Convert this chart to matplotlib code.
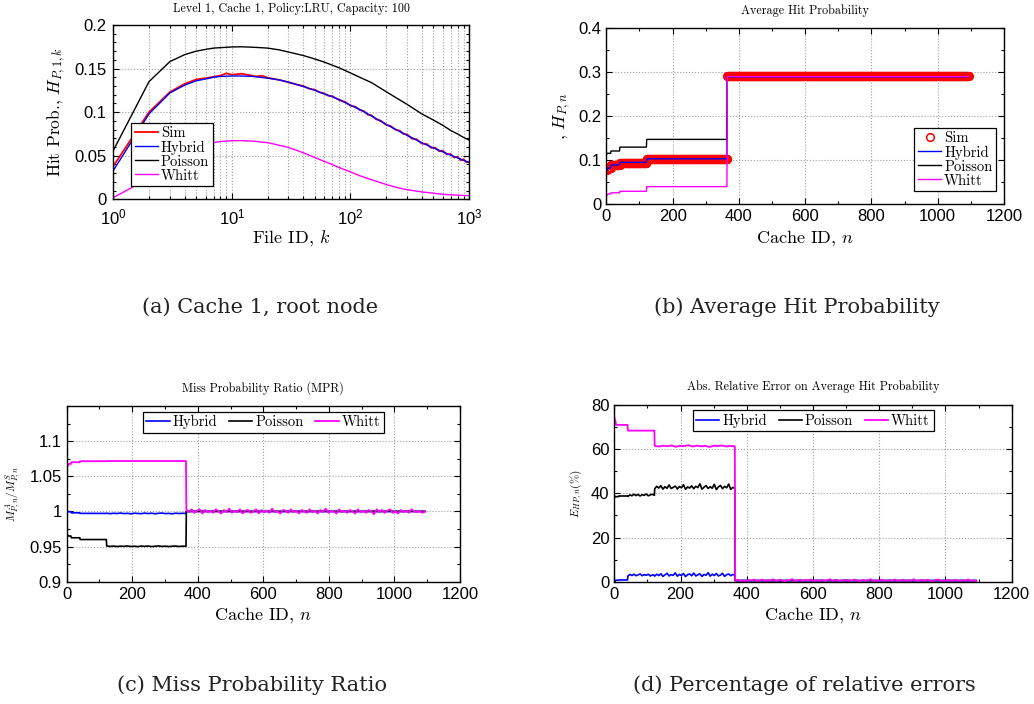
import numpy as np
import matplotlib
matplotlib.use("Agg")
import matplotlib.pyplot as plt
from matplotlib.ticker import MultipleLocator, FormatStrFormatter, LogLocator, NullFormatter

plt.rcParams['font.family'] = ['Liberation Sans', 'DejaVu Sans']
plt.rcParams['mathtext.fontset'] = 'cm'

SERIF = 'cmr10'
CAPTION_FONT = 'DejaVu Serif'

# ---------------- (a) hit probability per file, level 1 cache 1 ----------------
file_id = [1, 2, 3, 4, 5, 6, 7, 8, 10, 12, 15, 20, 25, 30, 40, 50, 60, 70, 80, 100,
           120, 150, 200, 250, 300, 400, 500, 600, 700, 800, 900, 1000]
hybrid_a = [0.033, 0.098, 0.122, 0.131, 0.136, 0.138, 0.140, 0.141, 0.1415, 0.1415, 0.141,
            0.139, 0.137, 0.1345, 0.1295, 0.125, 0.121, 0.1178, 0.1145, 0.108, 0.103, 0.0957,
            0.086, 0.079, 0.0735, 0.0648, 0.059, 0.0545, 0.0507, 0.0475, 0.0447, 0.0423]
poisson_a = [0.056, 0.135, 0.158, 0.166, 0.170, 0.172, 0.1735, 0.174, 0.1748, 0.175, 0.1745,
             0.1735, 0.1715, 0.169, 0.165, 0.161, 0.1575, 0.154, 0.151, 0.145, 0.140, 0.134,
             0.1235, 0.1155, 0.109, 0.098, 0.091, 0.085, 0.079, 0.075, 0.071, 0.068]
whitt_a = [0.002, 0.024, 0.040, 0.050, 0.057, 0.062, 0.065, 0.0663, 0.0672, 0.0673, 0.0668,
           0.065, 0.062, 0.0595, 0.0535, 0.048, 0.0435, 0.040, 0.0365, 0.0315, 0.027, 0.0225,
           0.017, 0.0133, 0.011, 0.0085, 0.007, 0.0058, 0.0052, 0.0047, 0.0044, 0.0042]
sim_file_id = [1, 2, 3, 4, 5, 6, 7, 8, 9, 10, 11, 12, 14, 16, 18, 20, 23, 26, 30, 35, 40, 45,
               50, 55, 60, 65, 70, 80, 90, 100, 110, 120, 130, 140, 150, 165, 180, 200, 220,
               240, 260, 280, 300, 330, 360, 400, 440, 480, 520, 560, 600, 650, 700, 750, 800,
               850, 900, 950, 1000]
sim_a = [0.038, 0.100, 0.123, 0.1325, 0.1375, 0.139, 0.1405, 0.142, 0.1445, 0.143, 0.1435,
         0.1442, 0.1425, 0.141, 0.1418, 0.1395, 0.138, 0.1365, 0.1342, 0.1318, 0.1300, 0.1268,
         0.1258, 0.1228, 0.1215, 0.1188, 0.1185, 0.1140, 0.1118, 0.1075, 0.1062, 0.1025,
         0.1012, 0.0972, 0.0965, 0.0918, 0.0902, 0.0855, 0.0838, 0.0798, 0.0788, 0.0750,
         0.0745, 0.0696, 0.0690, 0.0640, 0.0635, 0.0590, 0.0592, 0.0552, 0.0558, 0.0515,
         0.0520, 0.0478, 0.0490, 0.0448, 0.0460, 0.0425, 0.0430]

# ---------------- tree of caches: 7 levels of a ternary tree ----------------
level_size = [1, 3, 9, 27, 81, 243, 729]

# (b) average hit probability per level
sim_b = [0.077, 0.079, 0.083, 0.088, 0.094, 0.103, 0.290]
hybrid_b = [0.076, 0.079, 0.082, 0.089, 0.095, 0.103, 0.289]
poisson_b = [0.113, 0.1155, 0.1155, 0.1207, 0.1295, 0.147, 0.289]
whitt_b = [0.019, 0.022, 0.0235, 0.026, 0.0295, 0.040, 0.289]

# (c) miss probability ratio per level
hybrid_c = [1.000, 1.000, 0.9995, 0.998, 0.9972, 0.9972, 1.000]
poisson_c = [0.9665, 0.966, 0.965, 0.9625, 0.960, 0.9505, 1.000]
whitt_c = [1.0625, 1.065, 1.0675, 1.070, 1.0715, 1.0717, 1.000]
hybrid_c_l6 = [0.9975, 0.9968, 0.9974, 0.9970, 0.9977, 0.9969, 0.9973, 0.9966, 0.9975, 0.9971,
               0.9968, 0.9976, 0.9970, 0.9974, 0.9967, 0.9973, 0.9977, 0.9969, 0.9972, 0.9966,
               0.9975, 0.9970, 0.9974, 0.9971]
poisson_c_l6 = [0.9508, 0.9502, 0.9507, 0.9500, 0.9506, 0.9503, 0.9509, 0.9501, 0.9505, 0.9499,
                0.9507, 0.9503, 0.9508, 0.9500, 0.9504, 0.9509, 0.9502, 0.9506, 0.9500, 0.9505,
                0.9508, 0.9501, 0.9506, 0.9503]
whitt_c_l7 = [1.002, 0.999, 1.003, 0.998, 1.001, 1.003, 0.997, 1.002, 0.999, 1.001,
              0.998, 1.003, 1.000, 0.997, 1.002, 0.999, 1.004, 0.998, 1.001, 0.999,
              1.003, 0.997, 1.001, 1.002, 0.998, 1.000, 1.003, 0.997, 1.002, 0.999,
              1.001, 0.998, 1.004, 0.999, 1.000, 0.997, 1.002, 1.001, 0.998, 1.003,
              0.999, 1.001, 0.997, 1.002, 1.000, 0.998, 1.003, 0.999, 1.001, 0.997,
              1.002, 0.999, 1.004, 0.998, 1.001, 1.000, 0.997, 1.003, 0.999, 1.001,
              0.998, 1.002, 1.000, 0.997, 1.003, 0.999, 1.001, 0.998, 1.002, 1.000,
              0.996, 1.003, 0.999, 1.002, 0.998, 1.001, 1.003, 0.998, 1.000, 0.997,
              1.002, 0.999, 1.001, 0.998, 1.003, 1.000, 0.999, 1.001, 0.998, 1.000]

# (d) absolute relative error (%) per level
hybrid_d = [0.1, 0.4, 0.7, 0.8, 3.0, 3.0, 0.5]
poisson_d = [38.3, 38.6, 38.5, 38.8, 39.3, 42.5, 0.5]
whitt_d = [74.0, 72.5, 71.0, 71.0, 68.4, 61.4, 0.6]
hybrid_d_l5 = [2.6, 3.3, 2.8, 3.4, 2.7, 3.1, 3.5, 2.7, 3.2, 2.9, 3.4, 2.6, 3.1, 2.9]
hybrid_d_l6 = [2.5, 3.4, 2.8, 3.6, 2.4, 3.1, 3.8, 2.6, 3.2, 2.9, 4.0, 2.5, 3.3, 2.8, 3.7, 2.3,
               3.2, 3.5, 2.7, 3.9, 2.6, 3.1, 3.6, 2.4, 3.3, 2.9, 4.1, 2.5, 3.4, 2.8, 3.7, 2.6,
               3.0, 3.8, 2.4, 3.2, 3.5, 2.7, 3.3, 2.9]
poisson_d_l5 = [38.6, 39.3, 38.9, 39.6, 39.0, 39.5, 38.8, 39.4, 39.1, 39.7, 38.9, 39.3, 39.6, 39.1]
poisson_d_l6 = [42.1, 43.2, 42.4, 43.5, 41.9, 43.0, 42.3, 43.8, 42.2, 42.7, 43.3, 42.0, 43.1,
                42.5, 43.9, 41.8, 42.9, 42.4, 43.4, 42.1, 43.2, 42.6, 44.3, 41.9, 42.8, 43.5,
                42.2, 43.0, 42.3, 44.1, 41.7, 42.9, 43.6, 42.1, 43.2, 42.5, 44.2, 41.8, 42.7,
                42.3]
whitt_d_l6 = [61.5, 61.2, 61.6, 61.3, 61.7, 61.1, 61.5, 61.4, 61.8, 61.2, 61.6, 61.3, 61.5,
              61.0, 61.6, 61.4, 61.7, 61.2, 61.5, 61.3]
whitt_d_l7 = [0.5, 0.9, 0.3, 0.7, 0.2, 0.8, 0.4, 1.0, 0.3, 0.6,
              0.9, 0.2, 0.7, 0.4, 1.1, 0.3, 0.6, 0.8, 0.2, 0.7,
              0.4, 1.2, 0.3, 0.6, 0.9, 0.2, 0.8, 0.5, 1.0, 0.3,
              0.7, 0.4, 0.9, 0.2, 0.6, 1.1, 0.3, 0.8, 0.5, 0.2,
              0.9, 0.4, 0.7, 0.3, 1.0, 0.5, 0.2, 0.8, 0.4, 0.6,
              1.1, 0.3, 0.7, 0.2, 0.9, 0.5, 0.3, 0.8, 0.4, 1.0,
              0.2, 0.6, 0.9, 0.3, 0.7, 0.4, 1.1, 0.2, 0.6, 0.8,
              0.3, 0.9, 0.5, 0.2, 0.7, 1.0, 0.3, 0.6, 0.4, 0.8,
              0.2, 0.9, 0.5, 0.3, 0.7, 0.4, 1.0, 0.3, 0.6, 0.4]

RED, BLUE, MAG = '#ff0000', '#0000ff', '#ff00ff'

last_id = np.cumsum(level_size)
first_id = last_id - np.array(level_size) + 1


def level_series(levels, noisy=None):
    """x/y of a per-level curve; levels listed in `noisy` use the read samples."""
    noisy = noisy or {}
    xs, ys = [], []
    for i, v in enumerate(levels):
        if i in noisy:
            vals = noisy[i]
            xs.extend(np.linspace(first_id[i], last_id[i], len(vals)))
            ys.extend(vals)
        else:
            xs.extend([first_id[i], last_id[i]])
            ys.extend([v, v])
    return np.array(xs), np.array(ys)


def style_axes(ax):
    ax.tick_params(which='both', direction='in', top=True, right=True,
                   labelsize=12, labelfontfamily='Liberation Sans', width=0.8)
    ax.tick_params(which='major', length=4)
    ax.tick_params(which='minor', length=2)
    for s in ax.spines.values():
        s.set_linewidth(1.0)
    ax.grid(True, which='major', linestyle=':', color='#a0a0a0', linewidth=0.8)


def legend(ax, **kw):
    leg = ax.legend(prop={'family': SERIF, 'size': 10.5}, fancybox=False, framealpha=1,
                    edgecolor='black', borderpad=0.25, labelspacing=0.02,
                    handletextpad=0.2, borderaxespad=0, handlelength=1.6, **kw)
    leg.get_frame().set_linewidth(0.9)
    return leg


fig = plt.figure(figsize=(10.34, 7.04), dpi=100)
W, H = 1034.0, 704.0


def axes_px(left, top, right, bottom):
    return fig.add_axes([left / W, 1 - bottom / H, (right - left) / W, (bottom - top) / H])


# ---------------- (a) ----------------
ax = axes_px(113.3, 25, 469, 199.3)
ax.plot(sim_file_id, sim_a, color=RED, lw=1.3, label='Sim')
ax.plot(file_id, hybrid_a, color=BLUE, lw=1.0, label='Hybrid')
ax.plot(file_id, poisson_a, color='black', lw=1.0, label='Poisson')
ax.plot(file_id, whitt_a, color=MAG, lw=1.0, label='Whitt')
ax.set_xscale('log')
ax.set_xlim(1, 1000)
ax.set_ylim(0, 0.2)
ax.yaxis.set_major_locator(MultipleLocator(0.05))
ax.yaxis.set_minor_locator(MultipleLocator(0.01))
ax.yaxis.set_major_formatter(FormatStrFormatter('%g'))
ax.xaxis.set_minor_locator(LogLocator(base=10, subs=np.arange(2, 10)))
ax.xaxis.set_minor_formatter(NullFormatter())
style_axes(ax)
ax.tick_params(axis='y', pad=5)
ax.tick_params(axis='x', pad=6)
ax.grid(True, which='minor', axis='x', linestyle=':', color='#a0a0a0', linewidth=0.8)
ax.text(0.5, 1.092, 'Level 1, Cache 1, Policy:LRU, Capacity: 100', transform=ax.transAxes,
        ha='center', va='center', family=SERIF, size=8.7)
ax.set_xlabel('File ID, $k$', family=SERIF, size=13)
ax.set_ylabel('Hit Prob., $H_{P,1,k}$', family=SERIF, size=12.5)
ax.xaxis.set_label_coords(0.5, -0.165)
ax.yaxis.set_label_coords(-0.127, 0.5)
legend(ax, loc='lower left', bbox_to_anchor=(0.05, 0.075))

cache_id = np.arange(1, last_id[-1] + 1)

# ---------------- (b) ----------------
ax = axes_px(606.3, 27.7, 1004, 204.3)
ax.plot(cache_id, np.repeat(sim_b, level_size), 'o', mfc='none', mec=RED, ms=5.5, mew=1.1,
        label='Sim')
ax.plot(cache_id, np.repeat(hybrid_b, level_size), color=BLUE, lw=1.0, label='Hybrid')
ax.plot(cache_id, np.repeat(poisson_b, level_size), color='black', lw=1.0, label='Poisson')
ax.plot(cache_id, np.repeat(whitt_b, level_size), color=MAG, lw=1.0, label='Whitt')
ax.set_xlim(0, 1200)
ax.set_ylim(0, 0.4)
ax.xaxis.set_major_locator(MultipleLocator(200))
ax.xaxis.set_minor_locator(MultipleLocator(100))
ax.yaxis.set_major_locator(MultipleLocator(0.1))
ax.yaxis.set_minor_locator(MultipleLocator(0.05))
ax.yaxis.set_major_formatter(FormatStrFormatter('%g'))
style_axes(ax)
ax.text(0.5, 1.096, 'Average Hit Probability', transform=ax.transAxes,
        ha='center', va='center', family=SERIF, size=8.7)
ax.set_xlabel('Cache ID, $n$', family=SERIF, size=13)
ax.set_ylabel(', $H_{P,n}$', family=SERIF, size=12.5)
ax.xaxis.set_label_coords(0.5, -0.134)
ax.yaxis.set_label_coords(-0.084, 0.5)
legend(ax, loc='lower right', bbox_to_anchor=(0.98, 0.074), numpoints=1)

# ---------------- (c) ----------------
ax = axes_px(66.7, 406, 460, 581.7)
ax.plot(*level_series(hybrid_c, {5: hybrid_c_l6}), color=BLUE, lw=1.2, label='Hybrid')
ax.plot(*level_series(poisson_c, {5: poisson_c_l6}), color='black', lw=1.2, label='Poisson')
ax.plot(*level_series(whitt_c, {6: whitt_c_l7}), color=MAG, lw=1.3, label='Whitt')
ax.set_xlim(0, 1200)
ax.set_ylim(0.9, 1.15)
ax.xaxis.set_major_locator(MultipleLocator(200))
ax.xaxis.set_minor_locator(MultipleLocator(100))
ax.set_yticks([0.9, 0.95, 1.0, 1.05, 1.1])
ax.yaxis.set_minor_locator(MultipleLocator(0.025))
ax.yaxis.set_major_formatter(FormatStrFormatter('%g'))
style_axes(ax)
ax.text(0.5, 1.102, 'Miss Probability Ratio (MPR)', transform=ax.transAxes,
        ha='center', va='center', family=SERIF, size=8.7)
ax.set_xlabel('Cache ID, $n$', family=SERIF, size=13)
ax.set_ylabel('$M^{A}_{P,n}/M^{S}_{P,n}$', family=SERIF, size=8)
ax.xaxis.set_label_coords(0.5, -0.133)
ax.yaxis.set_label_coords(-0.114, 0.5)
legend(ax, loc='upper center', bbox_to_anchor=(0.5, 0.968), ncol=3, columnspacing=0.8)

# ---------------- (d) ----------------
ax = axes_px(614.3, 405, 1011.7, 581.7)
ax.plot(*level_series(hybrid_d, {4: hybrid_d_l5, 5: hybrid_d_l6}), color=BLUE, lw=1.2,
        label='Hybrid')
ax.plot(*level_series(poisson_d, {4: poisson_d_l5, 5: poisson_d_l6}), color='black', lw=1.2,
        label='Poisson')
ax.plot(*level_series(whitt_d, {5: whitt_d_l6, 6: whitt_d_l7}), color=MAG, lw=1.3,
        label='Whitt')
ax.set_xlim(0, 1200)
ax.set_ylim(0, 80)
ax.xaxis.set_major_locator(MultipleLocator(200))
ax.xaxis.set_minor_locator(MultipleLocator(100))
ax.yaxis.set_major_locator(MultipleLocator(20))
ax.yaxis.set_minor_locator(MultipleLocator(10))
style_axes(ax)
ax.text(0.5, 1.102, 'Abs. Relative Error on Average Hit Probability', transform=ax.transAxes,
        ha='center', va='center', family=SERIF, size=8.7)
ax.set_xlabel('Cache ID, $n$', family=SERIF, size=13)
ax.set_ylabel(r'$E_{H\,P,n}(\%)$', family=SERIF, size=8)
ax.xaxis.set_label_coords(0.5, -0.132)
ax.yaxis.set_label_coords(-0.074, 0.5)
legend(ax, loc='upper center', bbox_to_anchor=(0.5, 0.972), ncol=3, columnspacing=0.8)

# ---------------- sub-figure captions ----------------
for x, y, t in [(260.5, 307, '(a) Cache 1, root node'),
                (796.5, 307, '(b) Average Hit Probability'),
                (252, 685, '(c) Miss Probability Ratio'),
                (804, 685, '(d) Percentage of relative errors')]:
    fig.text(x / W, 1 - y / H, t, ha='center', va='center', family=CAPTION_FONT, size=15,
             color='#222222')

fig.savefig('out.png', dpi=100)
